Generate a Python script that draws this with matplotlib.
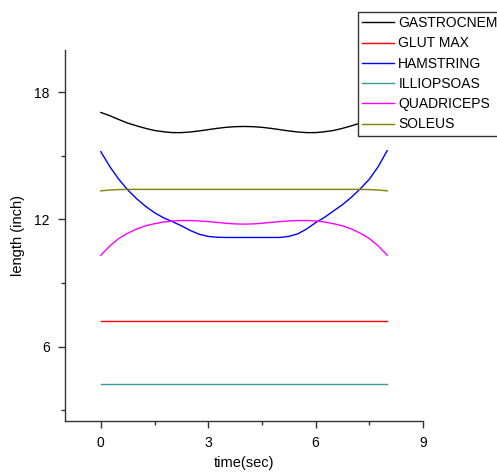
import matplotlib
matplotlib.use("Agg")
import matplotlib.pyplot as plt
from matplotlib.ticker import MultipleLocator

plt.rcParams['font.family'] = ['Liberation Sans', 'DejaVu Sans']

time = [0.0, 0.25, 0.5, 0.75, 1.0, 1.25, 1.5, 1.75, 2.0, 2.25, 2.5, 2.75, 3.0,
        3.25, 3.5, 3.75, 4.0, 4.25, 4.5, 4.75, 5.0, 5.25, 5.5, 5.75, 6.0,
        6.25, 6.5, 6.75, 7.0, 7.25, 7.5, 7.75, 8.0]

gastrocnemius = [17.05, 16.90, 16.72, 16.55, 16.42, 16.30, 16.20, 16.14, 16.10,
                 16.10, 16.13, 16.18, 16.24, 16.30, 16.35, 16.38, 16.39,
                 16.38, 16.35, 16.30, 16.24, 16.18, 16.13, 16.10, 16.10,
                 16.14, 16.20, 16.30, 16.42, 16.55, 16.72, 16.90, 17.05]
glut_max = [7.23] * 33
hamstring = [15.20, 14.50, 13.90, 13.40, 12.98, 12.62, 12.32, 12.08, 11.90,
             11.70, 11.48, 11.30, 11.20, 11.16, 11.15, 11.15, 11.15,
             11.15, 11.15, 11.15, 11.15, 11.20, 11.32, 11.55, 11.85,
             12.10, 12.40, 12.70, 13.05, 13.45, 13.90, 14.50, 15.25]
illiopsoas = [4.24] * 33
quadriceps = [10.31, 10.75, 11.10, 11.35, 11.55, 11.70, 11.80, 11.88, 11.93,
              11.95, 11.95, 11.93, 11.90, 11.86, 11.82, 11.79, 11.78,
              11.79, 11.82, 11.86, 11.90, 11.93, 11.95, 11.95, 11.93,
              11.88, 11.80, 11.70, 11.55, 11.35, 11.10, 10.75, 10.31]
soleus = [13.35, 13.39, 13.41] + [13.42] * 27 + [13.41, 13.39, 13.35]

names = ['GASTROCNEMIUS', 'GLUT MAX', 'HAMSTRING', 'ILLIOPSOAS', 'QUADRICEPS', 'SOLEUS']
series = [gastrocnemius, glut_max, hamstring, illiopsoas, quadriceps, soleus]
colors = ['#000000', '#ff0000', '#0000ff', '#3a9c9c', '#ff00ff', '#808000']

fig = plt.figure(figsize=(4.97, 4.73), dpi=100)
ax = fig.add_axes([65/497, 1-420.7/473, (423-65)/497, (420.7-50)/473])

for name, vals, c in zip(names, series, colors):
    ax.plot(time, vals, color=c, lw=1.0, label=name)

ax.set_xlim(-1, 9)
ax.set_ylim(2.5, 20)
ax.xaxis.set_major_locator(MultipleLocator(3))
ax.xaxis.set_minor_locator(MultipleLocator(1.5))
ax.yaxis.set_major_locator(MultipleLocator(6))
ax.yaxis.set_minor_locator(MultipleLocator(3))

for s in ['top', 'right']:
    ax.spines[s].set_visible(False)
for s in ['left', 'bottom']:
    ax.spines[s].set_color('#333333')
    ax.spines[s].set_linewidth(1.0)
ax.tick_params(which='major', direction='out', length=5, width=1, color='#333333',
               labelsize=10, pad=6)
ax.tick_params(which='minor', direction='out', length=3, width=1, color='#333333')

fig.text(244/497, 1-463/473, 'time(sec)', fontsize=10.5, ha='center', va='center')
fig.text(18/497, 1-235/473, 'length (inch)', fontsize=10.5, ha='center', va='center',
         rotation=90)

leg = fig.legend(loc='upper left', bbox_to_anchor=(358/497, 1-12/473),
                 frameon=True, fancybox=False, fontsize=10, handlelength=2.3,
                 handletextpad=0.3, labelspacing=0.45, borderaxespad=0,
                 borderpad=0.3, framealpha=1.0)
leg.get_frame().set_edgecolor('#333333')
leg.get_frame().set_linewidth(1.0)

fig.savefig('out.png', dpi=100)
